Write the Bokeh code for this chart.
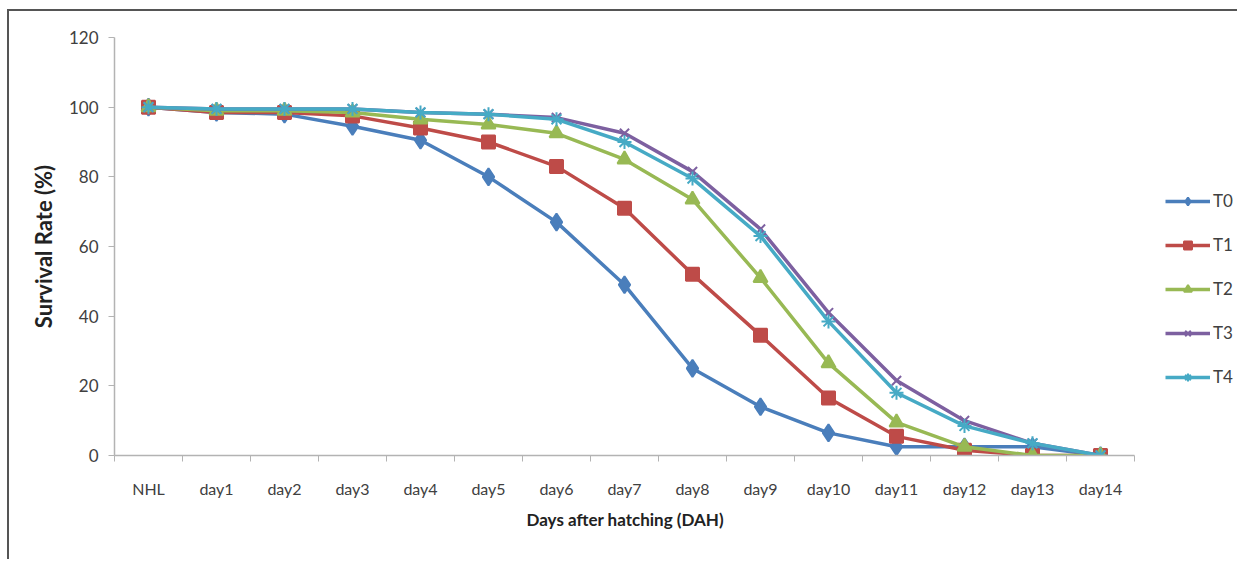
from bokeh.plotting import figure
from bokeh.models import Range1d, FixedTicker, Legend, LegendItem, Title
from bokeh.embed import file_html
from bokeh.resources import INLINE

categories = ["NHL", "day1", "day2", "day3", "day4", "day5", "day6", "day7",
              "day8", "day9", "day10", "day11", "day12", "day13", "day14"]
T0 = [100, 98.5, 98, 94.5, 90.5, 80, 67, 49, 25, 14, 6.5, 2.5, 2.5, 2.5, 0]
T1 = [100, 98.5, 98.5, 97.5, 94, 90, 83, 71, 52, 34.5, 16.5, 5.5, 1.5, 0, 0]
T2 = [100, 99, 99, 98.5, 96.5, 95, 92.5, 85, 73.5, 51, 26.5, 9.5, 2.5, 0, 0]
T3 = [100, 99.5, 99.5, 99.5, 98.5, 98, 97, 92.5, 81.5, 65, 41, 21.5, 10, 3.5, 0]
T4 = [100, 99.5, 99.5, 99.5, 98.5, 98, 96.5, 90, 79.5, 63, 38.5, 18, 8.5, 3.5, 0]
series_names = ["T0", "T1", "T2", "T3", "T4"]
y_ticks = [0, 20, 40, 60, 80, 100, 120]

colors = ["#4A7EBB", "#BE4B48", "#98B954", "#7D60A0", "#46AAC5"]
markers = ["diamond", "square", "triangle", "x", "asterisk"]
msizes = [17, 13, 14, 13, 14]

xs = list(range(len(categories)))
n = len(categories)

# frame spans to the right edge so the legend (inside the frame) is not clipped;
# the data area (-0.5 .. n-0.5) occupies 1020 px of the 1125 px frame
FRAME_W = 1125
DATA_W = 1020
x_end = -0.5 + n * FRAME_W / DATA_W

p = figure(width=1230, height=550, output_backend="svg", toolbar_location=None,
           x_range=Range1d(-0.5, x_end), y_range=Range1d(0, 120),
           min_border_left=105, min_border_right=0, min_border_top=26, min_border_bottom=106)
p.outline_line_color = None
p.xgrid.visible = False
p.ygrid.visible = False
p.styles = {"border-left": "2px solid #555555", "border-top": "2px solid #555555",
            "margin-left": "7px", "margin-top": "9px"}

font = "Lato"
axis_col = "#B3B3B3"

# x axis
xa = p.xaxis[0]
xa.bounds = (-0.5, n - 0.5)
xa.ticker = FixedTicker(ticks=xs, minor_ticks=[i - 0.5 for i in range(n + 1)])
xa.major_label_overrides = {i: c for i, c in enumerate(categories)}
xa.major_tick_out = 0
xa.major_tick_in = 0
xa.minor_tick_out = 6
xa.minor_tick_in = 0
xa.minor_tick_line_color = axis_col
xa.axis_line_color = axis_col
xa.axis_line_width = 1.5
xa.major_label_standoff = 17
xa.major_label_text_font = font
xa.major_label_text_font_size = "16px"
xa.major_label_text_color = "#404040"

xtitle = Title(text="Days after hatching (DAH)", align="left", offset=412, standoff=12,
               text_font=font, text_font_style="bold", text_font_size="17px",
               text_color="#222222")
p.add_layout(xtitle, "below")

# y axis
ya = p.yaxis[0]
ya.ticker = FixedTicker(ticks=y_ticks, minor_ticks=[])
ya.major_tick_out = 6
ya.major_tick_in = 0
ya.major_tick_line_color = axis_col
ya.axis_line_color = axis_col
ya.axis_line_width = 1.5
ya.major_label_standoff = 10
ya.major_label_text_font = font
ya.major_label_text_font_size = "17px"
ya.major_label_text_color = "#404040"
ya.axis_label = "Survival Rate (%)"
ya.axis_label_text_font = font
ya.axis_label_text_font_style = "bold"
ya.axis_label_text_font_size = "22px"
ya.axis_label_text_color = "#222222"
ya.axis_label_standoff = 9

items = []
for name, vals, c, m, s in zip(series_names, [T0, T1, T2, T3, T4], colors, markers, msizes):
    ln = p.line(xs, vals, line_color=c, line_width=3.5)
    sc = p.scatter(xs, vals, marker=m, size=s, fill_color=c, line_color=c, line_width=2)
    items.append(LegendItem(label=name, renderers=[ln, sc]))

legend = Legend(items=items, location=(1051, 68), glyph_width=45, glyph_height=20,
                label_height=20, spacing=23, padding=0, margin=0, label_standoff=3,
                label_text_font=font, label_text_font_size="17px", label_text_color="#404040",
                border_line_color=None, background_fill_alpha=0)
p.add_layout(legend, "center")

open("out.html", "w").write(file_html(p, INLINE))
